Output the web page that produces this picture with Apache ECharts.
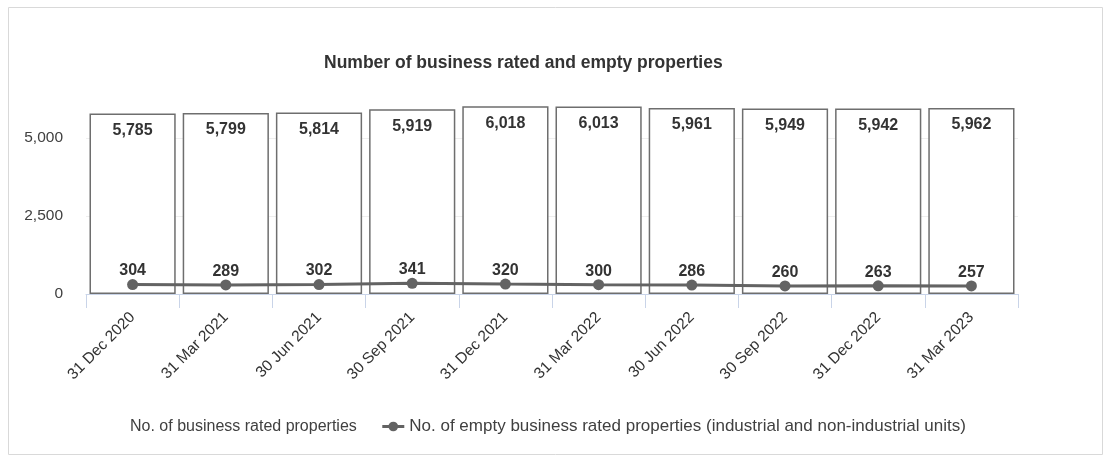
<!DOCTYPE html>
<html>
<head>
<meta charset="utf-8">
<script src="https://cdn.jsdelivr.net/npm/echarts@6/dist/echarts.min.js"></script>
<style>
  html, body { margin: 0; padding: 0; background: #fff; }
  #chart { width: 1104px; height: 462px; }
</style>
</head>
<body>
<div id="chart"></div>
<script>
// Quarter-end dates
const categories = ['31 Dec 2020', '31 Mar 2021', '30 Jun 2021', '30 Sep 2021', '31 Dec 2021',
                    '31 Mar 2022', '30 Jun 2022', '30 Sep 2022', '31 Dec 2022', '31 Mar 2023'];
// Total business rated properties
const ratedProperties = [5785, 5799, 5814, 5919, 6018, 6013, 5961, 5949, 5942, 5962];
// Empty business rated properties (industrial and non-industrial units)
const emptyProperties = [304, 289, 302, 341, 320, 300, 286, 260, 263, 257];

const ratedName = 'No. of business rated properties';
const emptyName = 'No. of empty business rated properties (industrial and non-industrial units)';

const chart = echarts.init(document.getElementById('chart'), null, { renderer: 'canvas' });
const font = 'Liberation Sans, Arial, sans-serif';

chart.setOption({
  animation: false,
  textStyle: { fontFamily: font },
  graphic: [{
    type: 'rect',
    shape: { x: 8.5, y: 7.5, width: 1094, height: 447 },
    style: { fill: 'none', stroke: '#d9d9d9', lineWidth: 1 },
    silent: true
  }],
  title: {
    text: 'Number of business rated and empty properties',
    left: 319,
    top: 49,
    textStyle: { fontFamily: font, fontSize: 17.5, fontWeight: 'bold', color: '#333' }
  },
  legend: {
    left: 98,
    top: 413,
    itemWidth: 22,
    itemHeight: 12,
    itemGap: 24,
    textStyle: { fontFamily: font, fontSize: 16, color: '#404040' },
    data: [
      { name: ratedName, itemStyle: { color: 'rgba(0,0,0,0)', borderWidth: 0 } },
      { name: emptyName, textStyle: { fontSize: 17 }, lineStyle: { width: 3, color: '#636363' } }
    ]
  },
  grid: { left: 86, right: 86, top: 60, bottom: 168, containLabel: false },
  xAxis: {
    type: 'category',
    data: categories,
    boundaryGap: true,
    axisLine: { lineStyle: { color: '#c9d4e8', width: 1 } },
    axisTick: { show: true, length: 14, lineStyle: { color: '#c9d4e8' } },
    axisLabel: {
      rotate: 45,
      interval: 0,
      margin: 21,
      fontSize: 15.5,
      color: '#333',
      fontFamily: font
    }
  },
  yAxis: {
    type: 'value',
    min: 0,
    max: 7500,
    interval: 2500,
    axisLine: { show: false },
    axisTick: { show: false },
    axisLabel: {
      showMaxLabel: false,
      fontSize: 15.5,
      color: '#404040',
      margin: 23,
      fontFamily: font,
      formatter: v => v.toLocaleString('en-US')
    },
    splitLine: { lineStyle: { color: ['#eeeeee', '#eeeeee', '#eeeeee', 'rgba(0,0,0,0)'], width: 1 } }
  },
  series: [
    {
      name: ratedName,
      type: 'bar',
      data: ratedProperties,
      barCategoryGap: '7.5%',
      itemStyle: { color: '#ffffff', borderColor: '#6e6e6e', borderWidth: 1.5 },
      label: {
        show: true,
        position: 'insideTop',
        distance: 9,
        fontSize: 16,
        fontWeight: 'bold',
        color: '#333',
        fontFamily: font,
        formatter: p => p.value.toLocaleString('en-US')
      },
      z: 2
    },
    {
      name: emptyName,
      type: 'line',
      data: emptyProperties,
      symbol: 'circle',
      symbolSize: 11,
      lineStyle: { color: '#636363', width: 3 },
      itemStyle: { color: '#636363' },
      label: {
        show: true,
        position: 'top',
        distance: 0,
        fontSize: 16,
        fontWeight: 'bold',
        color: '#333',
        fontFamily: font,
        formatter: p => p.value.toLocaleString('en-US')
      },
      z: 3
    }
  ]
});
</script>
</body>
</html>
